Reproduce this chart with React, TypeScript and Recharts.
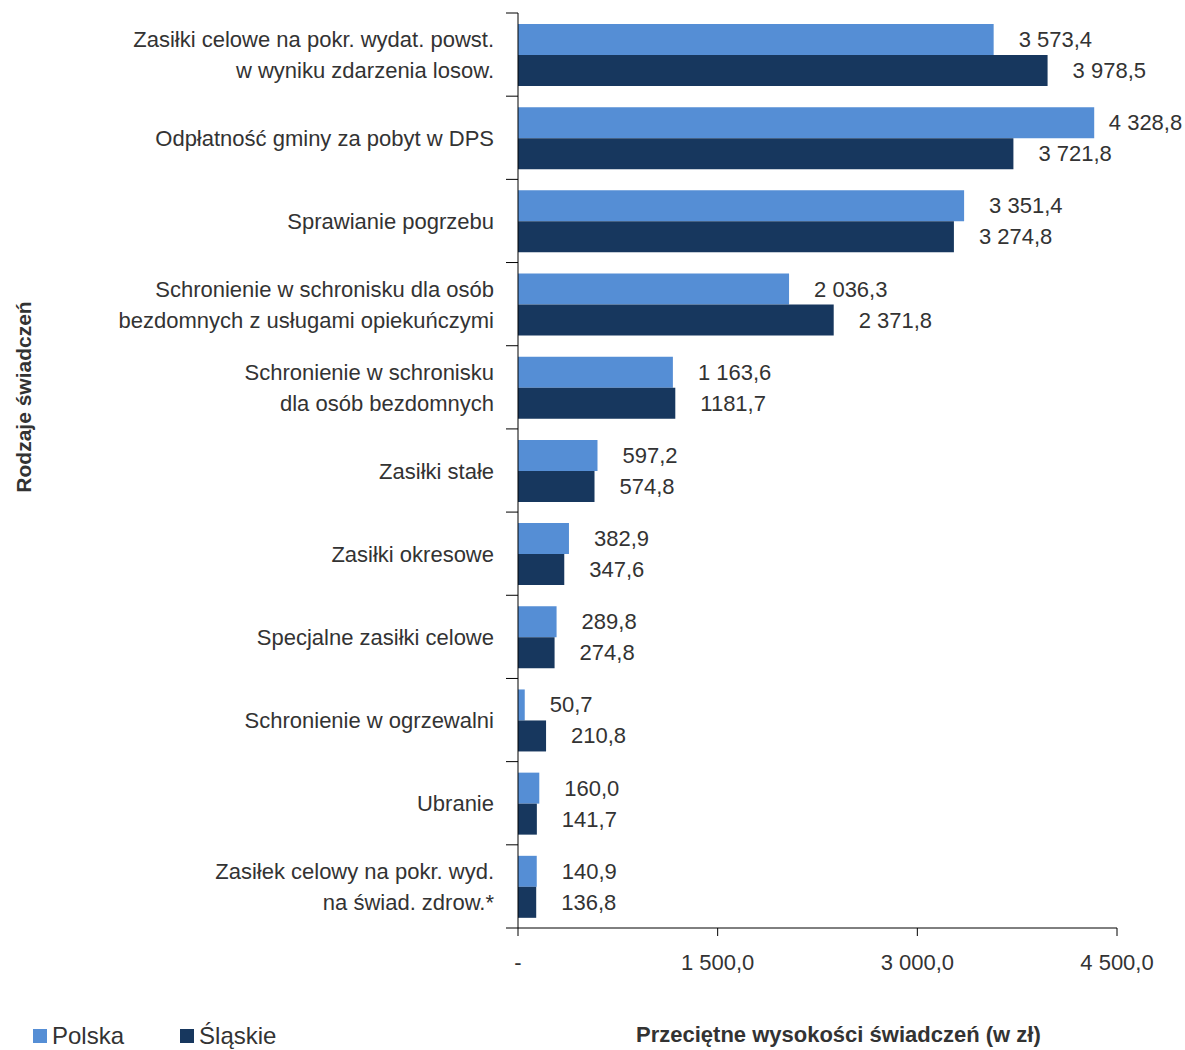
import React from 'react';
import { BarChart, Bar, XAxis, YAxis, LabelList } from 'recharts';

const categories = [
  'Zasiłki celowe na pokr. wydat. powst.\nw wyniku zdarzenia losow.',
  'Odpłatność gminy za pobyt w DPS',
  'Sprawianie pogrzebu',
  'Schronienie w schronisku dla osób\nbezdomnych z usługami opiekuńczymi',
  'Schronienie w schronisku\ndla osób bezdomnych',
  'Zasiłki stałe',
  'Zasiłki okresowe',
  'Specjalne zasiłki celowe',
  'Schronienie w ogrzewalni',
  'Ubranie',
  'Zasiłek celowy na pokr. wyd.\nna świad. zdrow.*',
];
const polska = [3573.4, 4328.8, 3351.4, 2036.3, 1163.6, 597.2, 382.9, 289.8, 50.7, 160.0, 140.9];
const slaskie = [3978.5, 3721.8, 3274.8, 2371.8, 1181.7, 574.8, 347.6, 274.8, 210.8, 141.7, 136.8];
const xTicks = [0, 1500, 3000, 4500];

// the source writes this one without the thousands space
const labelOverrides: Record<string, string> = { '1181.7': '1181,7' };

const FONT = "'Liberation Sans Narrow', 'Arial Narrow', 'Liberation Sans', Arial, sans-serif";
const TEXT = '#333333';
const POLSKA_COLOR = '#558ED5';
const SLASKIE_COLOR = '#17375E';
const CHART_W = 1185;

const fmt = (v: number) => {
  if (labelOverrides[String(v)]) return labelOverrides[String(v)];
  const [int, dec] = v.toFixed(1).split('.');
  return int.replace(/\B(?=(\d{3})+(?!\d))/g, ' ') + ',' + dec;
};

const data = categories.map((name, i) => ({ name, polska: polska[i], slaskie: slaskie[i] }));

const CategoryTick = (props: any) => {
  const { x, y, payload, index } = props;
  const lines: string[] = String(payload.value).split('\n');
  const band = 915 / categories.length;
  const lineH = 31;
  const startY = y - ((lines.length - 1) * lineH) / 2;
  const axisX = x + 24;
  return (
    <g>
      <line x1={axisX - 12} x2={axisX} y1={y - band / 2} y2={y - band / 2} stroke="#000" />
      {index === categories.length - 1 && (
        <line x1={axisX - 12} x2={axisX} y1={y + band / 2} y2={y + band / 2} stroke="#000" />
      )}
      <text x={x} y={startY} textAnchor="end" fill={TEXT} fontSize={22} fontFamily={FONT} dominantBaseline="central">
        {lines.map((l, i) => (
          <tspan key={i} x={x} dy={i === 0 ? 0 : lineH}>{l}</tspan>
        ))}
      </text>
    </g>
  );
};

const ValueLabel = (props: any) => {
  const { x, y, width, height, value } = props;
  const text = fmt(Number(value));
  const estW = text.length * 10.6;
  // keep the longest label inside the picture
  const lx = Math.min(x + width + 25, CHART_W - 2 - estW);
  return (
    <text x={lx} y={y + height / 2} fill={TEXT} fontSize={22} fontFamily={FONT} dominantBaseline="central">
      {text}
    </text>
  );
};

export default function App() {
  return (
    <div style={{ position: 'absolute', top: 0, left: 0, width: CHART_W, height: 1050, background: '#fff', overflow: 'hidden', fontFamily: FONT, color: TEXT }}>
      <BarChart
        width={CHART_W}
        height={1050}
        data={data}
        layout="vertical"
        margin={{ top: 13, right: 68, bottom: 72, left: 0 }}
        barGap={0}
      >
        <XAxis
          type="number"
          domain={[0, 4500]}
          ticks={xTicks}
          tickFormatter={(v: number) => (v === 0 ? '-' : fmt(v))}
          axisLine={{ stroke: '#000' }}
          tickLine={{ stroke: '#000' }}
          tickSize={8}
          tickMargin={18}
          height={50}
          tick={{ fill: TEXT, fontSize: 22, fontFamily: FONT }}
        />
        <YAxis
          type="category"
          dataKey="name"
          width={518}
          axisLine={{ stroke: '#000' }}
          tickLine={false}
          tickSize={0}
          tickMargin={24}
          tick={<CategoryTick />}
          interval={0}
          label={{
            content: () => (
              <text transform="translate(23,397) rotate(-90)" textAnchor="middle" dominantBaseline="central" fill={TEXT} fontSize={21} fontWeight="bold" fontFamily={FONT}>
                Rodzaje świadczeń
              </text>
            ),
          }}
        />
        <Bar dataKey="polska" name="Polska" fill={POLSKA_COLOR} barSize={31} isAnimationActive={false}>
          <LabelList dataKey="polska" content={<ValueLabel />} />
        </Bar>
        <Bar dataKey="slaskie" name="Śląskie" fill={SLASKIE_COLOR} barSize={31} isAnimationActive={false}>
          <LabelList dataKey="slaskie" content={<ValueLabel />} />
        </Bar>
      </BarChart>
      <div style={{ position: 'absolute', left: 33, top: 1022, display: 'flex', alignItems: 'center', fontSize: 24, lineHeight: '28px' }}>
        <span style={{ width: 14, height: 14, background: POLSKA_COLOR, display: 'inline-block', marginRight: 5 }} />
        <span style={{ marginRight: 56 }}>Polska</span>
        <span style={{ width: 14, height: 14, background: SLASKIE_COLOR, display: 'inline-block', marginRight: 5 }} />
        <span>Śląskie</span>
      </div>
      <div style={{ position: 'absolute', left: 636, top: 1021, fontSize: 22, fontWeight: 'bold', lineHeight: '28px', whiteSpace: 'nowrap' }}>
        Przeciętne wysokości świadczeń (w zł)
      </div>
    </div>
  );
}
